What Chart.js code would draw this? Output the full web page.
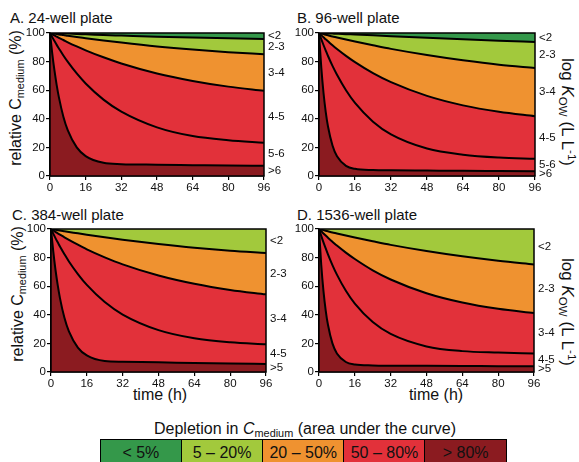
<!DOCTYPE html>
<html>
<head>
<meta charset="utf-8">
<script src="https://cdn.jsdelivr.net/npm/chart.js@4.4.1/dist/chart.umd.min.js"></script>
<style>
  body { margin: 0; background: #fff; font-family: "Liberation Sans", Arial, sans-serif; color: #111; }
  #page { position: relative; width: 579px; height: 462px; overflow: hidden; }
  canvas { position: absolute; }
  .title { position: absolute; font-size: 15px; line-height: 17px; white-space: nowrap; }
  .rot { position: absolute; font-size: 16px; white-space: nowrap; transform: translate(-50%, -50%) rotate(-90deg); }
  .rot.r { transform: translate(-50%, -50%) rotate(90deg); font-size: 17px; }
  .xt { position: absolute; font-size: 16px; white-space: nowrap; transform: translate(-50%, -50%); }
  sub { font-size: 0.68em; vertical-align: -0.3em; line-height: 0; }
  sup { font-size: 0.68em; vertical-align: 0.5em; line-height: 0; }
  #legTitle { position: absolute; left: 0; top: 420px; width: 610px; text-align: center; font-size: 16px; line-height: 18px; }
  #legend { position: absolute; left: 101px; top: 439px; width: 406px; height: 28px; display: flex; }
  #legend div { flex: 1; box-sizing: border-box; border: 1.5px solid #000; margin-left: -1.5px; text-align: center; font-size: 16px; line-height: 25px; }
</style>
</head>
<body>
<div id="page">
  <div class="title" style="left:10px;top:9px">A. 24-well plate</div>
  <div class="title" style="left:297px;top:9px">B. 96-well plate</div>
  <div class="title" style="left:12px;top:206px">C. 384-well plate</div>
  <div class="title" style="left:297px;top:206px">D. 1536-well plate</div>

  <div class="rot" style="left:16px;top:98px">relative C<sub>medium</sub> (%)</div>
  <div class="rot" style="left:18px;top:294px">relative C<sub>medium</sub> (%)</div>
  <div class="rot r" style="left:567px;top:112px">log <i>K</i><sub>OW</sub> (L L<sup>-1</sup>)</div>
  <div class="rot r" style="left:567px;top:312px">log <i>K</i><sub>OW</sub> (L L<sup>-1</sup>)</div>
  <div class="xt" style="left:160px;top:395px">time (h)</div>
  <div class="xt" style="left:436px;top:395px">time (h)</div>

  <canvas id="cA" width="290" height="175" style="left:0;top:25px"></canvas>
  <canvas id="cB" width="290" height="175" style="left:269px;top:25px"></canvas>
  <canvas id="cC" width="290" height="175" style="left:1px;top:221px"></canvas>
  <canvas id="cD" width="290" height="175" style="left:269px;top:221px"></canvas>

  <div id="legTitle">Depletion in <i>C</i><sub>medium</sub> (area under the curve)</div>
  <div id="legend"></div>
</div>
<script>
const hours = [0, 1, 2, 3, 4, 6, 8, 12, 16, 24, 32, 48, 64, 80, 96];
const xTicks = [0, 16, 32, 48, 64, 80, 96];
const yTicks = [0, 20, 40, 60, 80, 100];

// relative C_medium (%) per log Kow boundary, top curve first
const well24 = [
    [100, 99.96, 99.9, 99.85, 99.8, 99.7, 99.6, 99.3, 99.1, 98.6, 98.2, 97.4, 96.8, 96.3, 95.8],
    [100, 99.8, 99.5, 99.3, 99.0, 98.6, 98.1, 97.2, 96.4, 94.8, 93.3, 90.6, 88.4, 86.6, 85.2],
    [100, 99.1, 98.3, 97.5, 96.6, 95.1, 93.5, 90.6, 87.9, 83.0, 78.7, 71.7, 66.5, 62.5, 59.6],
    [100, 97.1, 94.4, 91.7, 89.2, 84.3, 79.8, 71.7, 64.7, 53.4, 45.0, 34.0, 27.9, 25.0, 23.3],
    [100, 85.8, 73.8, 63.6, 55.0, 41.5, 31.9, 20.0, 13.9, 9.2, 8.3, 7.9, 7.6, 7.3, 7.1]
];
const well96 = [
    [100, 99.93, 99.87, 99.8, 99.73, 99.6, 99.47, 99.2, 98.9, 98.35, 97.8, 96.7, 95.6, 94.6, 93.7],
    [100, 99.6, 99.2, 98.8, 98.4, 97.6, 96.9, 95.4, 94.0, 91.4, 88.9, 84.6, 80.9, 77.8, 75.6],
    [100, 98.5, 97.0, 95.6, 94.2, 91.4, 88.8, 84.0, 79.6, 71.9, 65.6, 56.0, 49.4, 44.9, 41.8],
    [100, 95.7, 91.6, 87.7, 83.9, 77.0, 70.8, 60.0, 51.1, 38.0, 29.1, 19.2, 14.9, 12.9, 12.0],
    [100, 76.1, 58.2, 44.7, 34.6, 21.3, 13.8, 7.1, 5.0, 4.2, 4.0, 3.8, 3.6, 3.45, 3.3]
];
const well384 = [
    [100, 99.7, 99.5, 99.2, 98.9, 98.4, 97.9, 97.0, 96.0, 94.2, 92.5, 89.5, 86.9, 84.8, 83.2],
    [100, 99.0, 98.0, 97.0, 96.1, 94.2, 92.4, 89.0, 85.8, 80.2, 75.3, 67.5, 61.7, 57.4, 54.3],
    [100, 96.8, 93.6, 90.7, 87.8, 82.4, 77.3, 68.5, 60.9, 48.9, 40.2, 29.3, 23.6, 20.8, 19.4],
    [100, 84.5, 71.5, 60.7, 51.7, 37.9, 28.4, 17.1, 11.6, 7.7, 7.2, 6.8, 6.3, 5.9, 5.6]
];
const well1536 = [
    [100, 99.6, 99.2, 98.8, 98.4, 97.6, 96.9, 95.4, 94.0, 91.4, 88.9, 84.6, 80.9, 77.8, 75.2],
    [100, 98.4, 96.9, 95.4, 93.9, 91.1, 88.4, 83.5, 79.0, 71.1, 64.7, 55.1, 48.6, 44.2, 41.2],
    [100, 95.2, 90.6, 86.4, 82.3, 74.8, 68.1, 56.8, 47.8, 34.9, 26.6, 17.9, 14.6, 13.6, 13.0],
    [100, 75.0, 56.6, 43.0, 33.0, 20.0, 13.0, 7.0, 5.3, 4.6, 4.4, 4.3, 4.2, 4.1, 4.0]
];

// log Kow band names, top band first
const bands6 = ['<2', '2-3', '3-4', '4-5', '5-6', '>6'];
const bands5 = ['<2', '2-3', '3-4', '4-5', '>5'];

const legendLabels = ['< 5%', '5 \u2013 20%', '20 \u2013 50%', '50 \u2013 80%', '> 80%'];

// colours
const C_DKGREEN = '#34984a';
const C_GREEN = '#a2c93c';
const C_ORANGE = '#ef9230';
const C_RED = '#e2313a';
const C_DKRED = '#8b1b20';
const legendColors = [C_DKGREEN, C_GREEN, C_ORANGE, C_RED, C_DKRED];

const FONT = '"Liberation Sans", Arial, sans-serif';

// fills the top band, draws the frame and the band names on the right
const framePlugin = {
    id: 'frame',
    beforeDraw(chart, args, opts) {
        const a = chart.chartArea, ctx = chart.ctx;
        ctx.save();
        ctx.fillStyle = opts.top;
        ctx.fillRect(a.left, a.top, a.right - a.left, a.bottom - a.top);
        ctx.restore();
    },
    afterDraw(chart, args, opts) {
        const a = chart.chartArea, ctx = chart.ctx, y = chart.scales.y;
        ctx.save();
        ctx.strokeStyle = '#000';
        ctx.lineWidth = 1.5;
        ctx.strokeRect(a.left, a.top, a.right - a.left, a.bottom - a.top);
        ctx.fillStyle = '#111';
        ctx.font = '11.5px ' + FONT;
        ctx.textBaseline = 'middle';
        const curves = opts.curves;
        opts.names.forEach((name, i) => {
            const hi = i === 0 ? 100 : curves[i - 1][curves[i - 1].length - 1];
            const lo = i === curves.length ? 0 : curves[i][curves[i].length - 1];
            ctx.fillText(name, a.right + 4, y.getPixelForValue((hi + lo) / 2));
        });
        ctx.restore();
    }
};

function makePanel(id, curves, names, topColor, fillColors, padRight) {
    const datasets = curves.map((vals, i) => ({
        data: hours.map((h, j) => ({ x: h, y: vals[j] })),
        borderColor: '#000',
        borderWidth: 2,
        backgroundColor: fillColors[i],
        fill: i === curves.length - 1 ? 'origin' : '+1',
        pointRadius: 0,
        cubicInterpolationMode: 'monotone'
    }));

    new Chart(document.getElementById(id), {
        type: 'line',
        data: { datasets: datasets },
        options: {
            responsive: false,
            animation: false,
            layout: { padding: { top: 8, right: padRight, left: 0, bottom: 0 } },
            plugins: {
                legend: { display: false },
                tooltip: { enabled: false },
                filler: { drawTime: 'beforeDatasetsDraw' },
                frame: { top: topColor, curves: curves, names: names }
            },
            scales: {
                x: {
                    type: 'linear',
                    min: 0, max: 96,
                    afterBuildTicks: s => { s.ticks = xTicks.map(v => ({ value: v })); },
                    afterFit: s => { s.height = 24; },
                    grid: { drawOnChartArea: false, tickLength: 4, color: '#000', lineWidth: 1.2 },
                    border: { color: '#000', width: 1.5 },
                    ticks: { color: '#111', padding: 1, font: { family: FONT, size: 11.5 }, maxRotation: 0 }
                },
                y: {
                    min: 0, max: 100,
                    afterBuildTicks: s => { s.ticks = yTicks.map(v => ({ value: v })); },
                    afterFit: s => { s.width = 50; },
                    grid: { drawOnChartArea: false, tickLength: 4, color: '#000', lineWidth: 1.2 },
                    border: { color: '#000', width: 1.5 },
                    ticks: { color: '#111', padding: 1, font: { family: FONT, size: 11.5 } }
                }
            }
        },
        plugins: [framePlugin]
    });
}

makePanel('cA', well24, bands6, C_DKGREEN, [C_GREEN, C_ORANGE, C_RED, C_RED, C_DKRED], 26);
makePanel('cB', well96, bands6, C_DKGREEN, [C_GREEN, C_ORANGE, C_RED, C_RED, C_DKRED], 24);
makePanel('cC', well384, bands5, C_GREEN, [C_ORANGE, C_RED, C_RED, C_DKRED], 25);
makePanel('cD', well1536, bands5, C_GREEN, [C_ORANGE, C_RED, C_RED, C_DKRED], 25);

// colour key below the panels
const legend = document.getElementById('legend');
legendLabels.forEach((txt, i) => {
    const cell = document.createElement('div');
    cell.textContent = txt;
    cell.style.background = legendColors[i];
    legend.appendChild(cell);
});
</script>
</body>
</html>
